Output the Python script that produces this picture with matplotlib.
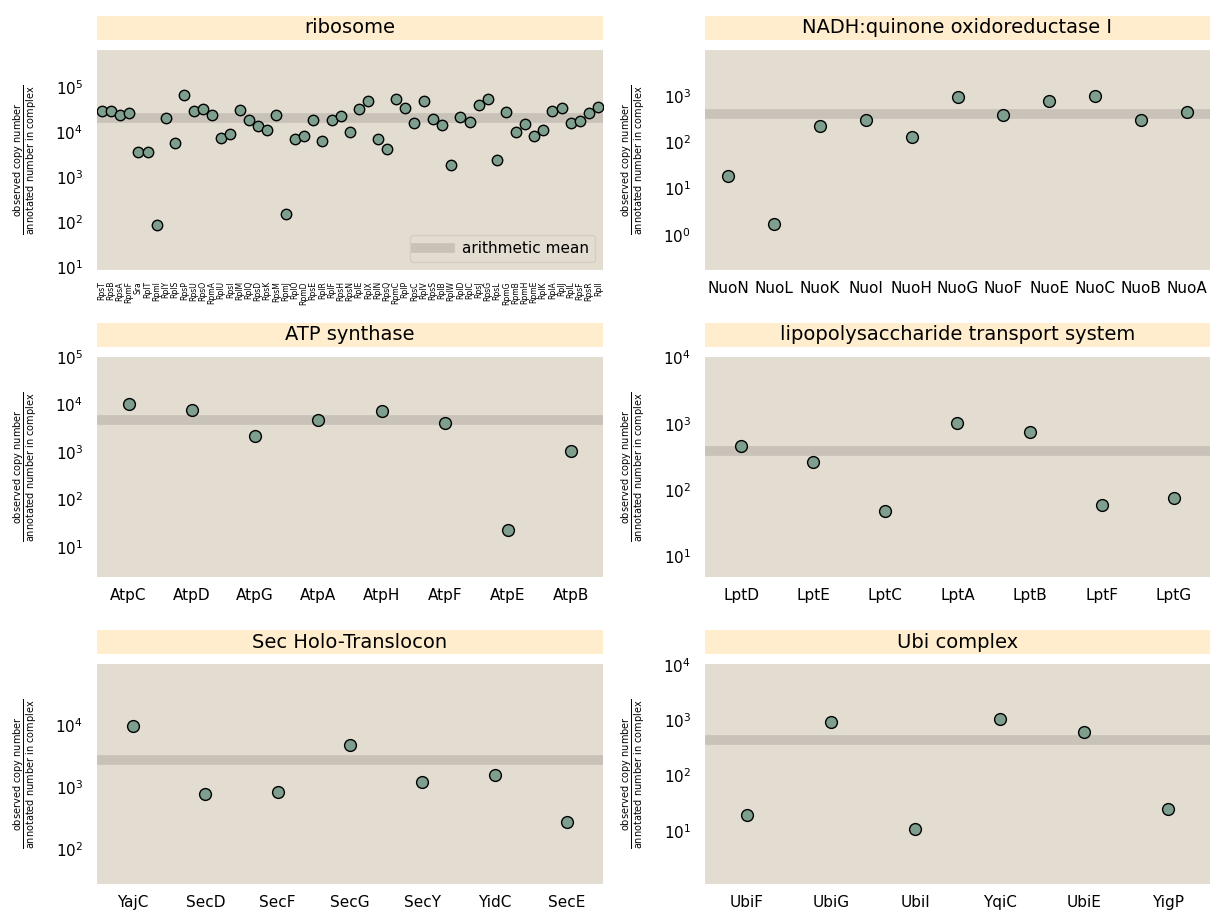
import numpy as np
import matplotlib
matplotlib.use('Agg')
import matplotlib.pyplot as plt
from matplotlib.patches import Rectangle
from matplotlib.lines import Line2D

plt.rcParams['font.family'] = ['DejaVu Sans']
plt.rcParams['mathtext.fontset'] = 'dejavusans'

# copy number per subunit, normalised by stoichiometry in the complex
ribosome_genes = ['RpsT', 'RpsB', 'RpsA', 'RpmF', 'Sra', 'RplT', 'RpmI', 'RplY', 'RplS', 'RpsP',
                  'RpsU', 'RpsO', 'RpmA', 'RplU', 'RpsI', 'RplM', 'RplQ', 'RpsD', 'RpsK', 'RpsM',
                  'RpmJ', 'RplO', 'RpmD', 'RpsE', 'RplR', 'RplF', 'RpsH', 'RpsN', 'RplE', 'RplX',
                  'RplN', 'RpsQ', 'RpmC', 'RplP', 'RpsC', 'RplV', 'RpsS', 'RplB', 'RplW', 'RplD',
                  'RplC', 'RpsJ', 'RpsG', 'RpsL', 'RpmG', 'RpmB', 'RpmH', 'RpmE', 'RplK', 'RplA',
                  'RplJ', 'RplL', 'RpsF', 'RpsR', 'RplI']
ribosome_counts = [28600, 29000, 24300, 26800, 3550, 3600, 87, 20400, 5570, 66000,
                   28600, 32700, 23400, 7300, 8900, 31600, 18200, 13700, 10900, 24300,
                   155, 7070, 8330, 18200, 6300, 18200, 22400, 10200, 32700, 50000,
                   7150, 4200, 53000, 33700, 16200, 50000, 19200, 14400, 1890, 21200,
                   16700, 40600, 54000, 2380, 28200, 10000, 14900, 8180, 11200, 28600,
                   34400, 15900, 17600, 26300, 35500]

nuo_genes = ['NuoN', 'NuoL', 'NuoK', 'NuoI', 'NuoH', 'NuoG', 'NuoF', 'NuoE', 'NuoC', 'NuoB', 'NuoA']
nuo_counts = [18.4, 1.74, 226, 294, 131, 950, 390, 770, 966, 305, 446]

atp_genes = ['AtpC', 'AtpD', 'AtpG', 'AtpA', 'AtpH', 'AtpF', 'AtpE', 'AtpB']
atp_counts = [10100, 7850, 2220, 4830, 7480, 4180, 23.3, 1070]

lpt_genes = ['LptD', 'LptE', 'LptC', 'LptA', 'LptB', 'LptF', 'LptG']
lpt_counts = [467, 268, 49, 1020, 758, 60.5, 77]

sec_genes = ['YajC', 'SecD', 'SecF', 'SecG', 'SecY', 'YidC', 'SecE']
sec_counts = [9500, 783, 843, 4730, 1183, 1540, 275]

ubi_genes = ['UbiF', 'UbiG', 'UbiI', 'YqiC', 'UbiE', 'YigP']
ubi_counts = [19.6, 920, 11, 1030, 600, 25]

panels = [('ribosome', ribosome_genes, ribosome_counts),
          ('NADH:quinone oxidoreductase I', nuo_genes, nuo_counts),
          ('ATP synthase', atp_genes, atp_counts),
          ('lipopolysaccharide transport system', lpt_genes, lpt_counts),
          ('Sec Holo-Translocon', sec_genes, sec_counts),
          ('Ubi complex', ubi_genes, ubi_counts)]

bg = '#E3DCD0'
title_bg = '#FFEDCE'
mean_color = '#C8C2B8'
point_color = '#7E9E8E'

W, H = 1210, 910
fig = plt.figure(figsize=(W / 100, H / 100), dpi=100)

col_x = [97, 705]
col_w = [506, 505]
row_top = [50, 357, 664]
ax_h = 220

ylab = (r'$\dfrac{\mathrm{observed\ copy\ number}}'
        r'{\mathrm{annotated\ number\ in\ complex}}$')

for i, (name, genes, counts) in enumerate(panels):
    r, c = divmod(i, 2)
    ax = fig.add_axes([col_x[c] / W, (H - row_top[r] - ax_h) / H, col_w[c] / W, ax_h / H])
    ax.set_facecolor(bg)
    for s in ax.spines.values():
        s.set_visible(False)

    vals = np.array(counts)
    x = np.arange(len(genes))
    ax.set_yscale('log')
    ax.axhline(vals.mean(), color=mean_color, lw=7, zorder=1)
    ms = 7.5 if name == 'ribosome' else 8.5
    ax.plot(x, vals, 'o', ms=ms, mfc=point_color, mec='black', mew=1.0, zorder=3, ls='none')

    ax.set_xlim(-0.5, len(genes) - 0.5)
    ax.set_ylim(vals.min() / 10, vals.max() * 10)
    ax.set_xticks(x)
    if name == 'ribosome':
        ax.set_xticklabels(genes, rotation=90, fontsize=5.5)
        ax.tick_params(axis='x', pad=8)
        handle = Line2D([], [], color=mean_color, lw=7)
        ax.legend([handle], ['arithmetic mean'], loc='lower right', fontsize=11,
                  frameon=True, facecolor=bg, edgecolor='#D4CDC1', framealpha=1,
                  handlelength=2.2)
    else:
        ax.set_xticklabels(genes, fontsize=11)
        ax.tick_params(axis='x', pad=8)
    ax.tick_params(axis='both', length=0, which='both')
    ax.tick_params(axis='y', labelsize=11, pad=10)
    ax.minorticks_off()

    ax.set_ylabel(ylab, fontsize=7)
    ax.yaxis.set_label_coords(-0.115, 0.5)

    # title strip above each panel
    ax.add_patch(Rectangle((0, 1 + 10 / ax_h), 1, 24 / ax_h, transform=ax.transAxes,
                           facecolor=title_bg, edgecolor='none', clip_on=False))
    ax.text(0.5, 1 + 22 / ax_h, name, transform=ax.transAxes, ha='center', va='center',
            fontsize=14)

fig.savefig('out.png', dpi=100, facecolor='white')
